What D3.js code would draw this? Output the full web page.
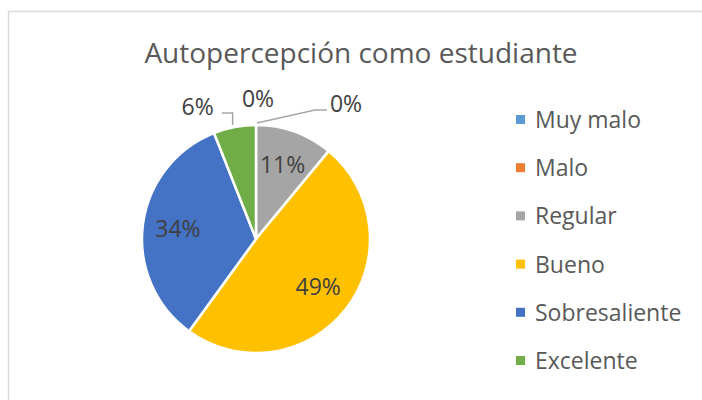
<!DOCTYPE html>
<html>
<head>
<meta charset="utf-8">
<script src="https://cdn.jsdelivr.net/npm/d3@7"></script>
<style>
  body { margin: 0; background: #fff; }
  text { font-family: "Open Sans", "Liberation Sans", sans-serif; }
</style>
</head>
<body>
<div id="chart"></div>
<script>
// data
var categories = ["Muy malo", "Malo", "Regular", "Bueno", "Sobresaliente", "Excelente"];
var values = [0, 0, 11, 49, 34, 6];
var colors = ["#5B9BD5", "#ED7D31", "#A5A5A5", "#FFC000", "#4472C4", "#70AD47"];
var title = "Autopercepción como estudiante";

// labels that excel pushed outside the pie (index -> offset from the arc point)
var outsideLabels = {
    0: {dx: 2, dy: -18, line: false},
    1: {dx: 90, dy: -13, line: true},
    5: {dx: -37, dy: -12, line: true}
};

var W = 702, H = 400;
var cx = 256, cy = 239, radius = 114;

var svg = d3.select("#chart").append("svg")
    .attr("width", W).attr("height", H);

// chart area border
svg.append("rect")
    .attr("x", 8.5).attr("y", 11.5)
    .attr("width", W + 10).attr("height", H + 10)
    .attr("fill", "none")
    .attr("stroke", "#d9d9d9")
    .attr("stroke-width", 1.5);

svg.append("text")
    .attr("x", 361).attr("y", 63)
    .attr("text-anchor", "middle")
    .attr("font-size", 28)
    .attr("fill", "#595959")
    .text(title);

var data = categories.map(function(c, i){ return {name: c, value: values[i], color: colors[i], i: i}; });

var pie = d3.pie().sort(null).value(function(d){ return d.value; });
var arcs = pie(data);

var arc = d3.arc().innerRadius(0).outerRadius(radius);
var labelArc = d3.arc().innerRadius(radius * 0.69).outerRadius(radius * 0.69);
var edgeArc = d3.arc().innerRadius(radius).outerRadius(radius);

var g = svg.append("g").attr("transform", "translate(" + cx + "," + cy + ")");

g.selectAll("path.slice")
    .data(arcs)
    .enter().append("path")
    .attr("class", "slice")
    .attr("d", arc)
    .attr("fill", function(d){ return d.data.color; })
    .attr("stroke", "#fff")
    .attr("stroke-width", 2.5)
    .attr("stroke-linejoin", "round");

// data labels
arcs.forEach(function(d){
    var out = outsideLabels[d.data.i];
    var txt = d.data.value + "%";
    if (!out) {
        var c = labelArc.centroid(d);
        g.append("text")
            .attr("x", c[0]).attr("y", c[1] + 8)
            .attr("text-anchor", "middle")
            .attr("font-size", 23)
            .attr("fill", "#404040")
            .text(txt);
        return;
    }
    var e = edgeArc.centroid(d);
    var lx = e[0] + out.dx, ly = e[1] + out.dy;
    var t = g.append("text")
        .attr("x", lx).attr("y", ly)
        .attr("text-anchor", "middle")
        .attr("font-size", 23)
        .attr("fill", "#404040")
        .text(txt);
    if (out.line) {
        var bw = t.node().getComputedTextLength();
        var midY = ly - 2;
        var pts;
        if (out.dx > 0) {
            // line from slice edge to the left side of the label
            var ex = lx - bw / 2 - 3;
            pts = [[e[0] + 1, e[1] - 2], [ex - 12, midY], [ex, midY]];
        } else {
            // short elbow from the right side of the label down to the slice
            var sx = lx + bw / 2 + 8;
            pts = [[sx, midY], [e[0] - 2, midY], [e[0] - 2, e[1] - 2]];
        }
        g.append("path")
            .attr("d", d3.line()(pts))
            .attr("fill", "none")
            .attr("stroke", "#a6a6a6")
            .attr("stroke-width", 1.5);
    }
});

// legend
var legend = svg.append("g").attr("transform", "translate(516,120)");
var item = legend.selectAll("g.item")
    .data(data)
    .enter().append("g")
    .attr("class", "item")
    .attr("transform", function(d, i){ return "translate(0," + (i * 48.2) + ")"; });

item.append("rect")
    .attr("x", 0).attr("y", -5)
    .attr("width", 9).attr("height", 9)
    .attr("fill", function(d){ return d.color; });

item.append("text")
    .attr("x", 19).attr("y", 8)
    .attr("font-size", 23)
    .attr("fill", "#595959")
    .text(function(d){ return d.name; });
</script>
</body>
</html>
